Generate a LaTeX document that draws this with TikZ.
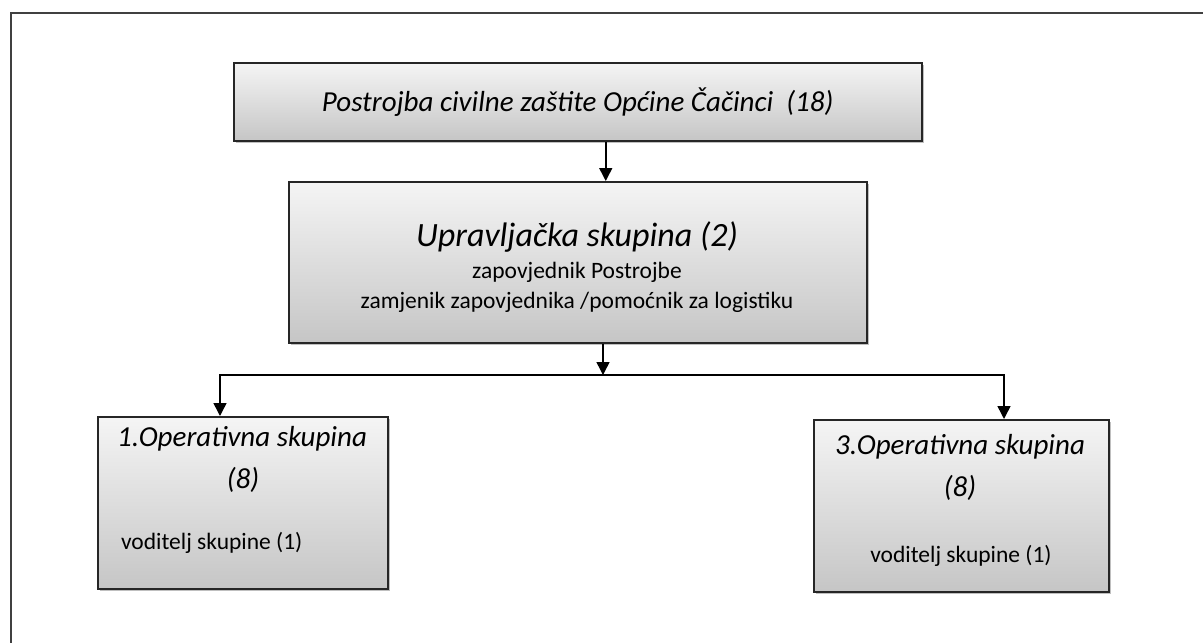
\documentclass[tikz,border=0pt]{standalone}
\usepackage{fontspec}
\setmainfont{Carlito}
\usetikzlibrary{arrows.meta, shadows}

\begin{document}
\begin{tikzpicture}[
                x = 1pt, y = -1pt, % pixel-like units, y downwards
                > = {Triangle[length=13pt, width=13pt]}, % arrow head style
                line width = 1.5pt % line style
            ]

            \tikzstyle{box}=[draw = black!85, rectangle, top color = gray!8,
            bottom color = gray!45, anchor = north west, inner sep = 0pt,
            drop shadow = {shadow xshift = 2pt, shadow yshift = -2pt,
            opacity = 0.25, fill = black}]
            \tikzstyle{headline}=[font = \fontsize{29}{33}\selectfont\itshape]
            \tikzstyle{optitle}=[font = \fontsize{29}{33}\selectfont\itshape,
            anchor = base]
            \tikzstyle{member}=[font = \fontsize{23.5}{30}\selectfont]
            \tikzstyle{link}=[draw = black, ->]

            \useasboundingbox (0,0) rectangle (1203,643);
            \draw[black!75, line width = 2pt] (1203,13) -| (11,643);

            % boxes
            \node (pcz) [box, minimum width = 688, minimum height = 78] at
            (233,62) {}; \node (pczt) [headline] at (pcz.center)
            {Postrojba civilne zaštite Općine Čačinci~~(18)};

            \node (upr) [box, minimum width = 578, minimum height = 161] at
            (288,181) {}; \node (uprt) [align = center, member] at (577,267)
            {{\fontsize{34}{38}\selectfont\itshape Upravljačka skupina (2)}\\[2pt]
            zapovjednik Postrojbe\\ zamjenik zapovjednika /pomoćnik za logistiku};

            \node (op1) [box, minimum width = 290, minimum height = 172] at
            (97,416) {}; \node (op1a) [optitle] at (242,446) {1.Operativna skupina};
            \node (op1b) [optitle] at (243,488) {(8)}; \node (op1c) [member,
            anchor = base west] at (117,549) {voditelj skupine (1)};

            \node (op3) [box, minimum width = 295, minimum height = 172] at
            (813,419) {}; \node (op3a) [optitle] at (960,454) {3.Operativna skupina};
            \node (op3b) [optitle] at (960,496) {(8)}; \node (op3c) [member,
            anchor = base] at (961,562) {voditelj skupine (1)};

            % connectors
            \coordinate (bus) at (603,375); \coordinate (j1) at (220,375);
            \coordinate (j3) at (1004,375);

            \draw[link] ([xshift = 28]pcz.south) -- ([xshift = 28]pcz.south |- upr.north);
            \draw[link] (upr.south -| bus) -- (bus);
            \draw[link] (bus) -- (j1) -- (j1 |- op1.north);
            \draw[link] (bus) -- (j3) -- (j3 |- op3.north);

        \end{tikzpicture}
\end{document}
